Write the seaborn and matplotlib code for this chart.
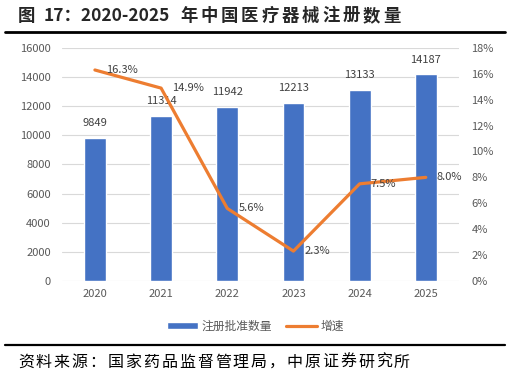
import numpy as np
import pandas as pd
import matplotlib
matplotlib.use("Agg")
import matplotlib.pyplot as plt
from matplotlib.lines import Line2D
from matplotlib.patches import Patch
import seaborn as sns

years = ["2020", "2021", "2022", "2023", "2024", "2025"]
counts = [9849, 11314, 11942, 12213, 13133, 14187]
growth = [16.3, 14.9, 5.6, 2.3, 7.5, 8.0]
growth_labels = ["16.3%", "14.9%", "5.6%", "2.3%", "7.5%", "8.0%"]
left_ticks = [0, 2000, 4000, 6000, 8000, 10000, 12000, 14000, 16000]
right_ticks = [0, 2, 4, 6, 8, 10, 12, 14, 16, 18]

title_head = "图"
title_num = "17：2020-2025"
title_tail = "年中国医疗器械注册数量"
source = "资料来源：国家药品监督管理局，中原证券研究所"

sns.set_theme(style="white")
plt.rcParams['font.family'] = ['Noto Sans CJK SC', 'DejaVu Sans']

df = pd.DataFrame({"year": years, "count": counts, "growth": growth})

blue = "#4472C4"
orange = "#ED7D31"
grey = "#595959"
W, H = 511, 378

fig = plt.figure(figsize=(5.11, 3.78), dpi=100)
ax = fig.add_axes([0.121, 0.257, 0.777, 0.616])

sns.barplot(df, x="year", y="count", color=blue, width=0.33, saturation=1, ax=ax)
ax.set_ylim(0, 16000)
ax.set_yticks(left_ticks)
ax.grid(axis="y", color="#D9D9D9", linewidth=0.8)
ax.set_axisbelow(True)
ax.bar_label(ax.containers[0], labels=[str(c) for c in counts], padding=7,
             fontsize=8, color="#404040")

ax2 = ax.twinx()
ax2.plot(range(len(years)), growth, color=orange, linewidth=2.3)
ax2.set_ylim(0, 18)
ax2.set_yticks(right_ticks)
ax2.set_yticklabels([f"{t}%" for t in right_ticks])

for i, (g, lab) in enumerate(zip(growth, growth_labels)):
    ax2.annotate(lab, (i, g), xytext=(11, 0), textcoords="offset pixels",
                 ha="left", va="center", fontsize=8, color="#404040")

for a in (ax, ax2):
    for s in a.spines.values():
        s.set_visible(False)
    a.tick_params(length=0, labelsize=8, labelcolor=grey)
    a.set_xlabel("")
    a.set_ylabel("")
ax.tick_params(axis="y", pad=8)
ax2.tick_params(axis="y", pad=9)
ax.tick_params(axis="x", pad=6)
ax.set_xlim(-0.5, len(years) - 0.5)

handles = [Patch(facecolor=blue, label="注册批准数量"),
           Line2D([0], [0], color=orange, linewidth=2.3, label="增速")]
fig.legend(handles=handles, loc="center", bbox_to_anchor=(0.5, 0.137), ncol=2,
           frameon=False, fontsize=8.5, labelcolor=grey, handlelength=2.6,
           handleheight=0.6, columnspacing=1.2, handletextpad=0.3)

# title, with the wide character spacing of the original
ty = 1 - 16 / H
fig.text(18 / W, ty, title_head, fontsize=12.5, fontweight="bold", ha="left", va="center")
fig.text(44 / W, ty, title_num, fontsize=12.5, fontweight="bold", ha="left", va="center")
for k, ch in enumerate(title_tail):
    fig.text((180 + 20.3 * k) / W, ty, ch, fontsize=12.5, fontweight="bold",
             ha="left", va="center")

fig.add_artist(Line2D([5 / W, 505 / W], [1 - 32 / H] * 2, color="black", linewidth=2))
fig.add_artist(Line2D([5 / W, 505 / W], [1 - 345 / H] * 2, color="black", linewidth=1.6))

for k, ch in enumerate(source):
    fig.text((18 + 17.9 * k) / W, 1 - 362 / H, ch, fontsize=11.5,
             ha="left", va="center", color="black")

fig.savefig("out.png", dpi=100)
